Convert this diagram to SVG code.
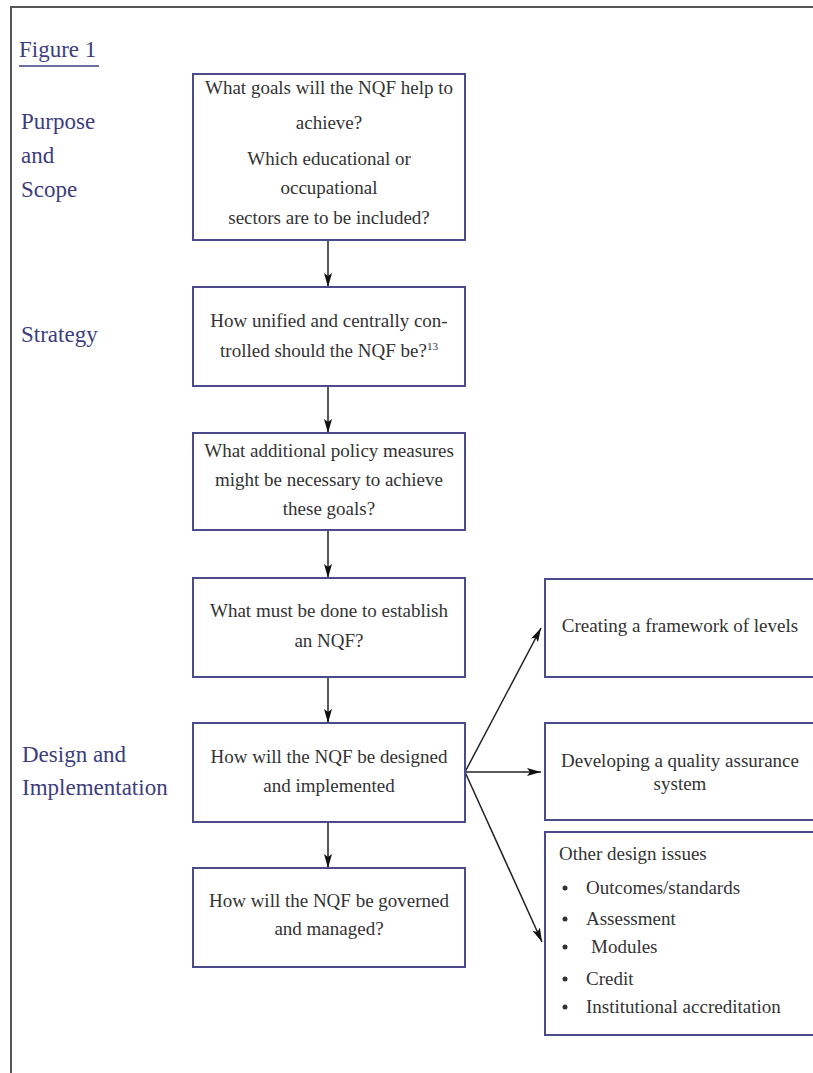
<svg xmlns="http://www.w3.org/2000/svg" width="813" height="1073" viewBox="0 0 813 1073">
<style>
.frame{fill:none;stroke:#555;stroke-width:2}
.box{fill:#fff;stroke:#4b4b8c;stroke-width:2}
.lbl{font-family:"Liberation Serif",serif;font-size:23px;fill:#3d3d7e}
.t{font-family:"Liberation Serif",serif;font-size:19px;fill:#333;text-anchor:middle}
.tl{font-family:"Liberation Serif",serif;font-size:19px;fill:#333}
.conn{fill:none;stroke:#222;stroke-width:1.5}
</style>
<defs>
<marker id="ah" markerWidth="14" markerHeight="8" refX="14" refY="4" orient="auto" markerUnits="userSpaceOnUse">
<path d="M0,0 L14,4 L0,8 L3,4 z" fill="#111"/>
</marker>
</defs>
<rect width="813" height="1073" fill="#fff"/>
<path class="frame" d="M11,1073 V7 H813"/>

<g id="labels">
<text class="lbl" x="19" y="57">Figure 1</text>
<line x1="19" y1="66" x2="99" y2="66" stroke="#3d3d7e" stroke-width="1.5"/>
<text class="lbl" x="21" y="129">Purpose</text>
<text class="lbl" x="21" y="163">and</text>
<text class="lbl" x="21" y="197">Scope</text>
<text class="lbl" x="21" y="342">Strategy</text>
<text class="lbl" x="22" y="762">Design and</text>
<text class="lbl" x="22" y="795">Implementation</text>
</g>

<g id="connectors">
<line class="conn" x1="328" y1="240" x2="328" y2="287" marker-end="url(#ah)"/>
<line class="conn" x1="328" y1="386" x2="328" y2="433" marker-end="url(#ah)"/>
<line class="conn" x1="328" y1="530" x2="328" y2="578" marker-end="url(#ah)"/>
<line class="conn" x1="328" y1="677" x2="328" y2="723" marker-end="url(#ah)"/>
<line class="conn" x1="328" y1="822" x2="328" y2="868" marker-end="url(#ah)"/>
<line class="conn" x1="465" y1="772" x2="541" y2="628" marker-end="url(#ah)"/>
<line class="conn" x1="465" y1="772" x2="541" y2="772" marker-end="url(#ah)"/>
<line class="conn" x1="465" y1="772" x2="542" y2="942" marker-end="url(#ah)"/>
</g>

<g id="n1">
<rect class="box" x="193" y="74" width="272" height="166"/>
<text class="t" x="329" y="94">What goals will the NQF help to</text>
<text class="t" x="329" y="129">achieve?</text>
<text class="t" x="329" y="165">Which educational or</text>
<text class="t" x="329" y="194">occupational</text>
<text class="t" x="329" y="224">sectors are to be included?</text>
</g>

<g id="n2">
<rect class="box" x="193" y="287" width="272" height="99"/>
<text class="t" x="329" y="327">How unified and centrally con-</text>
<text class="t" x="329" y="357">trolled should the NQF be?<tspan font-size="11" dy="-7">13</tspan></text>
</g>

<g id="n3">
<rect class="box" x="193" y="433" width="272" height="97"/>
<text class="t" x="329" y="457">What additional policy measures</text>
<text class="t" x="329" y="486">might be necessary to achieve</text>
<text class="t" x="329" y="515">these goals?</text>
</g>

<g id="n4">
<rect class="box" x="193" y="578" width="272" height="99"/>
<text class="t" x="329" y="617">What must be done to establish</text>
<text class="t" x="329" y="647">an NQF?</text>
</g>

<g id="n5">
<rect class="box" x="193" y="723" width="272" height="99"/>
<text class="t" x="329" y="763">How will the NQF be designed</text>
<text class="t" x="329" y="792">and implemented</text>
</g>

<g id="n6">
<rect class="box" x="193" y="868" width="272" height="99"/>
<text class="t" x="329" y="907">How will the NQF be governed</text>
<text class="t" x="329" y="935">and managed?</text>
</g>

<g id="r1">
<rect class="box" x="545" y="579" width="272" height="98"/>
<text class="t" x="680" y="632">Creating a framework of levels</text>
</g>

<g id="r2">
<rect class="box" x="545" y="723" width="272" height="97"/>
<text class="t" x="680" y="767">Developing a quality assurance</text>
<text class="t" x="680" y="790">system</text>
</g>

<g id="r3">
<rect class="box" x="545" y="832" width="272" height="203"/>
<text class="tl" x="559" y="860">Other design issues</text>
<g fill="#333">
<circle cx="565" cy="888" r="2.5"/>
<circle cx="565" cy="919" r="2.5"/>
<circle cx="565" cy="947" r="2.5"/>
<circle cx="565" cy="979" r="2.5"/>
<circle cx="565" cy="1007" r="2.5"/>
</g>
<text class="tl" x="586" y="894">Outcomes/standards</text>
<text class="tl" x="586" y="925">Assessment</text>
<text class="tl" x="591" y="953">Modules</text>
<text class="tl" x="586" y="985">Credit</text>
<text class="tl" x="586" y="1013">Institutional accreditation</text>
</g>
</svg>
